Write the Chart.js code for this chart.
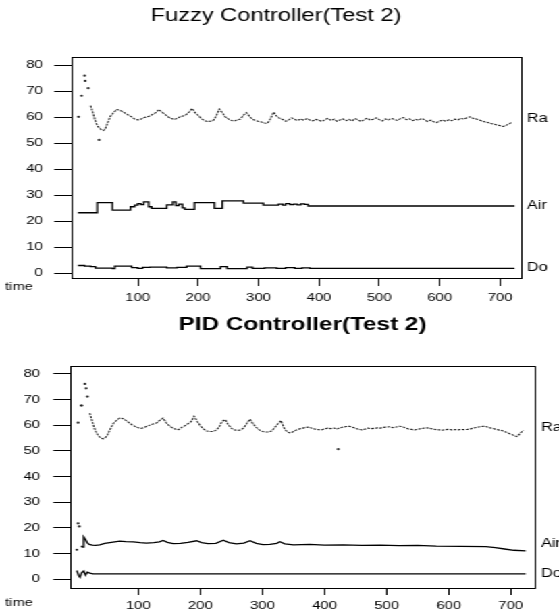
<!DOCTYPE html>
<html>
<head>
<meta charset="utf-8">
<script src="https://cdn.jsdelivr.net/npm/chart.js@4.4.1/dist/chart.umd.min.js"></script>
<style>
  html, body { margin: 0; padding: 0; background: #fff; overflow: hidden; }
  #wrap { position: absolute; left: 0; top: 0; width: 414px; height: 616px;
          transform: scaleX(1.35024); transform-origin: 0 0; }
  .box { position: absolute; left: 0; width: 414px; }
  #b1 { top: 0; height: 310px; }
  #b2 { top: 310px; height: 306px; }
</style>
</head>
<body>
<div id="wrap">
  <div class="box" id="b1"><canvas id="c1"></canvas></div>
  <div class="box" id="b2"><canvas id="c2"></canvas></div>
</div>
<script>
// ---------- data ----------
const xTicks = [100, 200, 300, 400, 500, 600, 700];
const yTicks = [0, 10, 20, 30, 40, 50, 60, 70, 80];
const titles = ['Fuzzy Controller(Test 2)', 'PID Controller(Test 2)'];
const seriesNames = ['Ra', 'Air', 'Do'];
const axisName = 'time';

const raTime = [22, 25, 28, 31, 34, 37, 40, 43, 46,
  50, 55, 60, 65, 70, 75, 80, 85, 90, 95,
  100, 105, 110, 115, 120, 125, 130, 135, 140, 145,
  150, 155, 160, 165, 170, 175, 180, 185, 190, 195,
  200, 205, 210, 215, 220, 225, 230, 235, 240, 245,
  250, 255, 260, 265, 270, 275, 280, 285, 290, 295,
  300, 305, 310, 315, 320, 325, 330, 335, 340, 345,
  350, 355, 360, 365, 370, 375, 380, 385, 390, 395,
  400, 405, 410, 415, 420, 425, 430, 435, 440, 445,
  450, 455, 460, 465, 470, 475, 480, 485, 490, 495,
  500, 505, 510, 515, 520, 525, 530, 535, 540, 545,
  550, 555, 560, 565, 570, 575, 580, 585, 590, 595,
  600, 605, 610, 615, 620, 625, 630, 635, 640, 645,
  650, 655, 660, 665, 670, 675, 680, 685, 690, 695,
  700, 705, 710, 715, 720];

// Fuzzy controller (top)
const fuzzyRa = [64.5, 62.3, 60, 57.8, 56.5, 55.8, 55.2, 54.9, 55.4,
  57.8, 60.5, 61.8, 63, 62.8, 62.2, 61.5, 60.8, 60.2, 59.3,
  59, 59.3, 59.8, 60.2, 60.5, 61.2, 61.8, 63, 62, 61.2,
  60.2, 59.6, 59.2, 59.5, 60.2, 60.5, 61, 62, 63.4, 61.8,
  60.8, 59.6, 58.8, 58.4, 58.5, 58.8, 60.5, 63.2, 61.8, 60.2,
  59.4, 58.8, 58.6, 59, 59.3, 60.8, 61.8, 60.4, 59.2, 58.8,
  58.4, 58.2, 57.8, 57.7, 59.5, 62, 60.5, 59.6, 59.2, 58.5,
  59.0, 59.8, 59.2, 58.8, 59.4, 58.9, 59.5, 59.0, 58.6, 59.2,
  58.9, 58.4, 59.1, 59.6, 58.8, 59.3, 58.5, 59.0, 59.4, 58.7,
  59.2, 58.6, 59.5, 59.0, 58.4, 59.1, 59.7, 58.9, 59.3, 59.8,
  59.1, 58.6, 59.4, 59.0, 59.6, 59.2, 58.8, 59.5, 59.9, 59.1,
  59.4, 58.7, 59.2, 58.9, 59.6, 59.0, 58.4, 58.9, 58.3, 58.0,
  58.6, 58.9, 58.5, 59.0, 58.7, 59.3, 59.0, 59.6, 59.3, 59.8,
  60.2, 59.6, 59.4, 59.0, 58.6, 58.2, 58.0, 57.6, 57.4, 57.0,
  56.8, 56.5, 56.9, 57.5, 58.2];
const fuzzyRaDotTime = [2, 7, 12, 13, 18, 36];
const fuzzyRaDot = [60.2, 68.3, 76, 74, 71.2, 51.3];
const fuzzyAirTime = [1, 33, 58, 88, 95, 100, 105, 110, 118, 123, 148, 158, 163, 168, 174, 178, 194, 227, 240, 275,
  308, 333, 340, 345, 352, 358, 364, 370, 376, 382, 724];
const fuzzyAir = [23.3, 27.2, 24.3, 25.6, 26.2, 26.8, 26.4, 27.5, 25.6, 25.0, 26.3, 27.5, 26.0, 26.6, 25.2, 24.6, 27.2, 25.0, 27.9, 27.0,
  26.2, 26.6, 26.2, 26.8, 26.4, 26.6, 26.3, 26.7, 26.5, 25.9, 25.9];
const fuzzyAirDotTime = [];
const fuzzyAirDot = [];
const fuzzyDoTime = [1, 12, 22, 30, 58, 62, 90, 100, 108, 120, 148, 165, 181, 204, 237, 248, 281, 290, 310, 330,
  345, 360, 372, 385, 724];
const fuzzyDo = [3.0, 2.8, 2.6, 2.0, 1.8, 2.8, 2.2, 1.9, 2.3, 2.4, 2.1, 2.3, 2.8, 1.8, 2.6, 1.8, 2.4, 1.9, 2.1, 1.9,
  2.2, 1.9, 2.1, 1.9, 1.9];

// PID controller (bottom)
const pidRa = [64.7, 62.2, 59.8, 57.8, 56.5, 55.6, 55.0, 54.7, 55.0,
  56.0, 58.6, 60.8, 61.9, 62.8, 62.6, 61.9, 61.0, 60.2, 59.5,
  59.0, 58.8, 59.2, 59.7, 60.2, 60.6, 61.0, 62.0, 62.8, 61.0,
  59.8, 59.0, 58.5, 58.3, 59.2, 59.8, 60.6, 61.4, 63.5, 61.5,
  59.8, 58.6, 57.8, 57.6, 57.6, 58.0, 59.2, 61.5, 62.2, 60.2,
  58.8, 58.2, 58.0, 58.2, 59.0, 60.8, 62.4, 60.5, 59.2, 58.2,
  57.6, 57.4, 57.4, 57.8, 59.2, 60.6, 61.8, 58.8, 57.4, 57.0,
  57.6, 58.2, 58.6, 58.9, 59.2, 59.3, 58.8, 58.5, 58.3, 58.2,
  58.6, 58.9, 58.7, 58.9, 58.6, 59.0, 59.3, 59.5, 59.6, 59.2,
  58.8, 58.4, 58.2, 58.5, 58.9, 58.7, 58.8, 59.0, 58.9, 59.2,
  59.3, 59.4, 59.1, 59.3, 59.6, 59.5, 59.0, 58.6, 58.4, 58.2,
  58.4, 58.7, 58.9, 59.0, 58.8, 58.5, 58.3, 58.2, 58.1, 58.3,
  58.4, 58.2, 58.3, 58.2, 58.4, 58.3, 58.4, 58.6, 58.9, 59.2,
  59.4, 59.6, 59.5, 59.1, 58.8, 58.5, 58.2, 58.0, 57.6, 57.0,
  56.6, 56.0, 55.6, 56.8, 58.0];
const pidRaDotTime = [3, 8, 9, 14, 16, 18, 422];
const pidRaDot = [61, 67.7, 67.7, 76.1, 74.4, 71.2, 50.7];
const pidAirTime = [8, 10, 12, 15, 18, 21, 26, 31, 38, 46, 54, 62, 70, 80, 92, 103, 113,
  125, 134, 140, 147, 156, 168, 180, 194, 202, 212, 225, 237, 246, 258, 270, 280, 290, 301, 312, 323,
  328, 336, 350, 376, 400, 430, 460, 490, 520, 550, 580, 620, 660, 675, 690, 705, 724];
const pidAir = [13.0, 12.5, 16.5, 15.5, 14.2, 13.6, 13.3, 13.2, 13.4, 14.0, 14.3, 14.6, 14.9, 14.7, 14.6, 14.3, 14.1,
  14.3, 14.6, 15.1, 14.4, 13.9, 14.0, 14.4, 15.0, 14.3, 13.9, 14.0, 15.2, 14.3, 13.8, 14.1, 15.0, 14.0, 13.5, 13.6, 14.0,
  14.6, 13.8, 13.4, 13.6, 13.3, 13.4, 13.2, 13.3, 13.1, 13.2, 12.9, 12.8, 12.7, 12.3, 11.8, 11.3, 11.1];
const pidAirDotTime = [1, 3, 5];
const pidAirDot = [11.5, 21.8, 20.6];
const pidDoTime = [1, 4, 6, 9, 12, 15, 18, 22, 27, 724];
const pidDo = [3.4, 1.5, 0.8, 2.6, 3.2, 1.6, 2.8, 2.4, 2.1, 2.1];

// ---------- helpers ----------
const FONT = "'Liberation Sans', Arial, Helvetica, sans-serif";
const pts = (t, v) => t.map((x, i) => ({ x, y: v[i] }));
const dots = (t, v) => ({ label: 'dots', data: pts(t, v), showLine: false, pointRadius: 1.1,
  pointBorderWidth: 0, pointBackgroundColor: '#222', sideLabel: false });

function seriesSet(s) {
  return [
    { label: seriesNames[0], data: pts(s.raT, s.ra), borderColor: '#222', borderWidth: 1.1,
      borderDash: [2, 1], pointRadius: 0, tension: 0, sideLabel: true },
    dots(s.raDotT, s.raDot),
    { label: seriesNames[1], data: pts(s.airT, s.air), borderColor: '#000', borderWidth: 1.3,
      pointRadius: 0, stepped: s.airStepped ? 'before' : false, tension: 0, sideLabel: true },
    dots(s.airDotT, s.airDot),
    { label: seriesNames[2], data: pts(s.doT, s.dov), borderColor: '#000', borderWidth: 1.3,
      pointRadius: 0, stepped: s.doStepped ? 'before' : false, tension: 0, sideLabel: true }
  ];
}

const decor = {
  id: 'decor',
  afterDraw(chart, args, o) {
    const { ctx, chartArea: a, scales } = chart;
    ctx.save();
    ctx.strokeStyle = '#000';
    ctx.lineWidth = 1;
    const l = Math.round(a.left) + 0.5, r = Math.round(a.right) + 0.5;
    const t = Math.round(a.top) + 0.5, b = Math.round(a.bottom) + 0.5;
    ctx.strokeRect(l, t, r - l, b - t);
    ctx.fillStyle = '#000';
    ctx.textAlign = 'left';
    ctx.textBaseline = 'middle';
    ctx.font = '12px ' + FONT;
    chart.data.datasets.forEach(ds => {
      if (!ds.sideLabel) return;
      const ys = ds.data.map(p => p.y);
      const mean = ys.reduce((s, v) => s + v, 0) / ys.length;
      ctx.fillText(ds.label, a.right + o.labelGap, scales.y.getPixelForValue(mean));
    });
    ctx.font = '11px ' + FONT;
    ctx.fillText(axisName, o.timeX, a.bottom + o.timeDy);
    ctx.restore();
  }
};

function makeChart(id, cfg) {
  return new Chart(document.getElementById(id), {
    type: 'line',
    data: { datasets: cfg.datasets },
    plugins: [decor],
    options: {
      responsive: true,
      maintainAspectRatio: false,
      animation: false,
      devicePixelRatio: 1,
      layout: { padding: cfg.padding },
      plugins: {
        legend: { display: false },
        tooltip: { enabled: false },
        title: {
          display: true, text: cfg.title, color: '#000', fullSize: cfg.fullSize,
          font: { family: FONT, size: cfg.titleSize, weight: cfg.titleWeight, lineHeight: 1.2 },
          padding: cfg.titlePad
        },
        decor: { labelGap: 4.4, timeX: 3.7, timeDy: cfg.timeDy }
      },
      scales: {
        x: {
          type: 'linear', min: cfg.xMin, max: cfg.xMax,
          afterBuildTicks: s => { s.ticks = xTicks.map(v => ({ value: v })); },
          afterFit: s => { s.height = cfg.xAxisH; },
          border: { display: false },
          grid: { drawOnChartArea: false, drawTicks: true, tickLength: cfg.xTickLen, color: '#000', tickColor: '#000', tickWidth: 1 },
          ticks: { color: '#000', font: { family: FONT, size: 11 }, padding: cfg.xTickPad, maxRotation: 0, autoSkip: false,
                   callback: v => String(v) }
        },
        y: {
          type: 'linear', min: cfg.yMin, max: cfg.yMax,
          afterBuildTicks: s => { s.ticks = yTicks.map(v => ({ value: v })); },
          afterFit: s => { s.width = cfg.yAxisW; },
          border: { display: false },
          grid: { drawOnChartArea: false, drawTicks: true, tickLength: 12.4, color: '#000', tickColor: '#000', tickWidth: 1 },
          ticks: { color: '#000', font: { family: FONT, size: 11 }, padding: cfg.yTickPad, autoSkip: false,
                   callback: v => String(v) }
        },
        r: {
          type: 'linear', position: 'right', display: cfg.rightW > 0,
          afterFit: s => { s.width = cfg.rightW; },
          border: { display: false }, grid: { display: false }, ticks: { display: false }
        }
      }
    }
  });
}

makeChart('c1', {
  title: titles[0], titleSize: 17.5, titleWeight: 'normal', titlePad: { top: 6, bottom: 30 }, fullSize: true,
  padding: { left: 0, right: 5.2, top: 0, bottom: 0 }, rightW: 22.94,
  yAxisW: 52.58, xAxisH: 32, xTickLen: 8, xTickPad: 4.9, yTickPad: 8.5, timeDy: 9,
  xMin: -10.5, xMax: 734.6, yMin: -1.8, yMax: 83.2,
  datasets: seriesSet({ raT: raTime, ra: fuzzyRa, raDotT: fuzzyRaDotTime, raDot: fuzzyRaDot,
    airT: fuzzyAirTime, air: fuzzyAir, airDotT: fuzzyAirDotTime, airDot: fuzzyAirDot,
    doT: fuzzyDoTime, dov: fuzzyDo, airStepped: true, doStepped: true })
});

makeChart('c2', {
  title: titles[1], titleSize: 18, titleWeight: 'bold', titlePad: { top: 4.2, bottom: 30.2 }, fullSize: false,
  padding: { left: 0, right: 17.77, top: 0, bottom: 0 }, rightW: 0,
  yAxisW: 51.84, xAxisH: 28, xTickLen: 7, xTickPad: 4.2, yTickPad: 9.7, timeDy: 15,
  xMin: -10, xMax: 739, yMin: -3.4, yMax: 83.1,
  datasets: seriesSet({ raT: raTime, ra: pidRa, raDotT: pidRaDotTime, raDot: pidRaDot,
    airT: pidAirTime, air: pidAir, airDotT: pidAirDotTime, airDot: pidAirDot,
    doT: pidDoTime, dov: pidDo, airStepped: false, doStepped: false })
});
</script>
</body>
</html>
